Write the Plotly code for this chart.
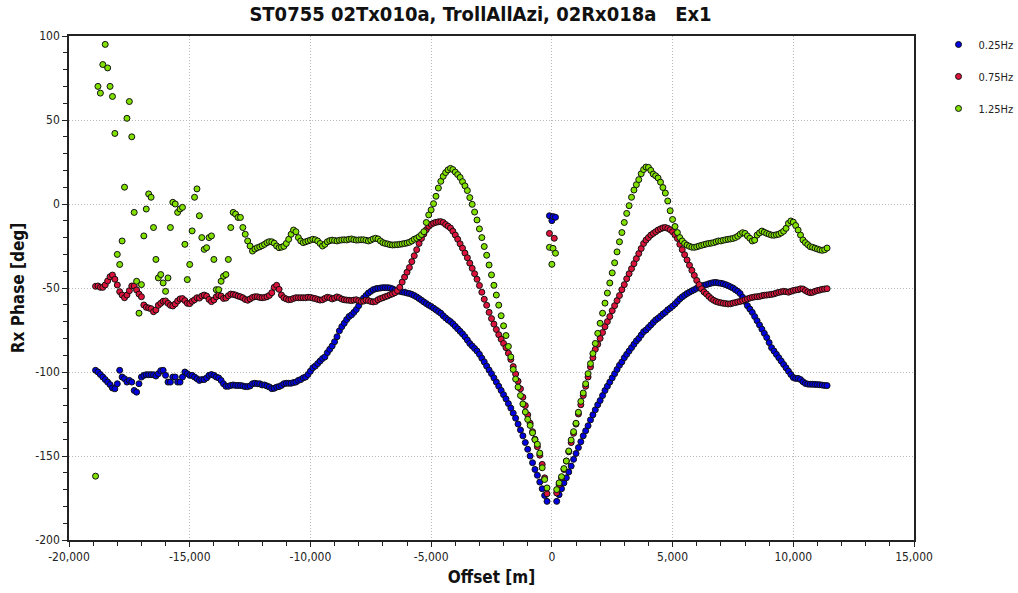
import plotly.graph_objects as go

TITLE = "ST0755 02Tx010a, TrollAllAzi, 02Rx018a\u00a0\u00a0\u00a0Ex1"
SERIES_NAMES = ["0.25Hz", "0.75Hz", "1.25Hz"]
SERIES_COLORS = ["#0000e0", "#dc143c", "#80e000"]

# receiver offsets [m] (regular 100 m sampling, near-offset gap)
OFFSETS_LEFT = list(range(-18900, -100, 100))   # -18900 .. -200
OFFSETS_RIGHT = list(range(200, 11500, 100))    # 200 .. 11400

# ---------------- 0.25 Hz ----------------
PH025_LEFT = [
    -99, -100, -101.5, -103, -104.5, -106, -107.5, -109.5, -110, -107,
    -99, -103, -104, -106, -105, -106, -111, -112, -107, -103,
    -102, -101.6, -101.6, -101.6, -101.6, -102.4, -101, -99.2, -99, -102,
    -106, -106, -103, -103, -106, -106, -103, -100, -101, -102,
    -102, -103, -104, -105, -104.5, -104.5, -103.5, -102, -101.5, -102,
    -103, -103.5, -105, -107, -108.5, -108.5, -108, -107.7, -108, -108,
    -108, -108.3, -108.7, -108.7, -108.3, -107, -106.7, -107, -107, -107.7,
    -107.7, -108.3, -108.9, -109.9, -109.7, -109, -108.7, -108, -107, -106.7,
    -106.7, -106.7, -106.3, -106, -105, -104.5, -103.5, -103,
    -101.5, -99.5, -97.5, -96.5, -95, -93.5, -92, -91, -88.5, -86.5,
    -84.5, -82, -79, -75.5, -73, -71, -68.8, -67, -66, -64.5,
    -62.8, -60.5, -57.8, -56, -54.5, -53, -52, -51, -50.5, -50.2,
    -50, -49.8, -49.8, -49.8, -50, -50.5, -51.2, -51.8, -52, -52.3,
    -52.6, -53, -53.3, -53.8, -54.5, -55.3, -56.3, -57.3, -58.3, -59.3,
    -60.2, -61, -62, -63, -64, -65, -66.5, -67.8, -69, -70,
    -71.3, -72.8, -74.3, -75.8, -77.3, -79, -81, -83, -84.5, -86,
    -87.5, -89.5, -91.8, -94, -96.5, -98.8, -101, -103.5, -106, -108.5,
    -111, -113.5, -116, -118.8, -121.5, -124.5, -127.5, -131, -134.5, -138,
    -142, -146, -150, -154, -158, -161.5, -165.5, -169.5, -173.5, -177,
]
PH025_NEAR_X = [-100, 0, 50, 150]
PH025_NEAR_Y = [-7, -9.9, -7.5, -7.9]
PH025_RIGHT = [
    -177, -173, -169.5, -166, -163, -159.5, -156, -152, -148.5, -145,
    -141.5, -138, -135, -132, -128.5, -125.5, -122.5, -119.5, -117, -114,
    -111, -108.5, -106, -103.5, -101, -98.5, -96, -94, -91.5, -89.5,
    -87.5, -85.5, -83.5, -81.5, -80, -78, -76, -75, -73.5, -72,
    -70.5, -69, -68, -66.8, -65.5, -64.5, -63, -62, -60.8, -59.5,
    -58, -56.5, -55.3, -54.3, -53.3, -52.5, -51.7, -51, -50.2, -49.5,
    -49, -48.4, -48, -47.5, -47.1, -46.8, -46.7, -47, -47.2, -47.5,
    -48, -48.6, -49.3, -50, -51, -52, -53.3, -55.5, -58, -60.5,
    -62.5, -64.5, -67, -69.5, -72, -74.5, -77, -79.5, -82.5, -85.5,
    -87.5, -89.5, -91.5, -93.5, -95.5, -97.5, -99.5, -101.5, -103.3, -103.8,
    -103.8, -104.5, -105.8, -106.8, -107.2, -107.3, -107.3, -107.4, -107.5, -107.6,
    -107.8, -108, -108.1,
]

# ---------------- 0.75 Hz ----------------
PH075_LEFT = [
    -49, -48.8, -49.6, -49.6, -48.2, -45.8, -43.3, -42.3, -44.8, -48.2,
    -52.2, -54.2, -55.8, -54.2, -51.6, -48.8, -48.8, -51.2, -53.6, -55.2,
    -60.1, -61.5, -61.9, -62.3, -64.1, -63.1, -60.3, -59.1, -57.9, -57.7,
    -59.1, -60.3, -60.7, -59.5, -57.7, -56.5, -56.3, -57.5, -59.1, -59.3,
    -57.9, -57, -55.8, -56, -54.8, -54.2, -54.8, -56.8, -58.1, -57.1,
    -55.2, -54.2, -54.8, -56.2, -56, -54.6, -53.6, -53.8, -54.2, -54.8,
    -55.2, -55.8, -56.8, -57.3, -56.5, -55.6, -55.2, -55.2, -55.6, -55.8,
    -55.6, -55.2, -54.4, -52.8, -49.6, -48.4, -50.8, -54.2, -55.8, -56.5,
    -57, -56.8, -56.2, -55.8, -55.8, -55.8, -55.8, -55.8,
    -55.5, -55.6, -56, -56.3, -56.8, -57.2, -57, -56.2, -55.5, -55.8,
    -56.5, -56, -55.3, -55.8, -56.6, -57, -57.2, -57.3, -57.5, -57.2,
    -57, -57.5, -58, -57.8, -57.2, -57.5, -58, -58.3, -58, -57,
    -56.3, -55.8, -55.2, -54.7, -54, -53.5, -52.8, -51.5, -49.6, -46.5,
    -43.5, -40.6, -37.8, -34.3, -30.8, -27.2, -23.5, -20.5, -17.8, -15.3,
    -13.3, -12.1, -11.4, -10.9, -10.6, -10.5, -11, -12.2, -13.2, -14.3,
    -16.2, -18.5, -21, -23.7, -26.3, -29.2, -32, -35.2, -38.3, -41.5,
    -44.8, -48.5, -52.5, -56.7, -60.3, -64.5, -68.2, -71.5, -74.7, -77.8,
    -80.5, -83, -85.5, -88.8, -92.5, -96.8, -101.2, -105.5, -110, -115,
    -120, -125.5, -130.5, -135.5, -140, -144.5, -149.5, -155, -163, -172.5,
]
PH075_NEAR_X = [-100, 100]
PH075_NEAR_Y = [-17.5, -20.4]
PH075_RIGHT = [
    -172, -167, -163, -158, -153, -147.5, -142, -136.5, -131, -125,
    -119.5, -114, -108.5, -103, -97, -91.5, -86.5, -83.5, -80, -76.5,
    -73, -70, -67, -63.5, -60.5, -57.5, -54.5, -51, -48, -44.5,
    -41.5, -38.5, -35.5, -32.5, -29.5, -26.5, -23.5, -21.5, -20, -18.5,
    -17.5, -16.5, -15.5, -14.8, -14.2, -14, -14.5, -15.3, -16.5, -18.3,
    -20.5, -24, -27.2, -30.2, -33.3, -36.5, -39.5, -42.5, -45.5, -48,
    -50.5, -52.3, -53.5, -55, -56.3, -57.3, -58, -58.5, -58.8, -59.1,
    -59.3, -59.5, -59.4, -59, -58.7, -58.3, -58, -57.5, -57, -56.5,
    -56, -55.6, -55.3, -55.2, -55, -54.6, -54.3, -54.2, -54, -53.8,
    -53.5, -53, -52.6, -52.3, -52, -52.2, -52.5, -52, -51.5, -51.2,
    -51, -50.5, -50.6, -51.5, -52.3, -52.8, -52.6, -52, -51.5, -51.2,
    -50.8, -50.6, -50.4,
]

# ---------------- 1.25 Hz ----------------
PH125_LEFT = [
    -162, 70, 66, 83, 95, 81, 70, 64, 42, -30,
    -36, -22, 10, 51, 61, 40, -5, -46, -65, -48,
    -19, -3, 6, 4, -14, -33, -44, -42, -47, -52,
    -44, -14, 1, 0, -5, -3, -2, -24, -45, -36,
    -16, 4, 9, -7, -20, -27, -26, -20, -19, -33,
    -51, -51, -46, -43, -42, -33, -14, -5, -6, -8,
    -8, -14, -18, -22, -25, -28,
    -26.8, -26, -25.5, -24.8, -24, -23, -22.4, -22.5, -23.3, -25,
    -26, -25.7, -25.2, -23.5, -21, -18, -15.5, -16.5, -20, -22,
    -23, -22.5, -22, -21.5, -21, -21.3, -22, -23.5, -25, -24,
    -22.5, -21.8, -21.5, -21.7, -22, -21.6, -21.4, -21.3, -21.4, -21,
    -20.8, -21.2, -21.5, -21.4, -21.3, -21.3, -21.6, -22, -21.5, -20.8,
    -20.4, -20.8, -22, -23, -23.5, -23.8, -24.2, -24.4, -24.3, -24.2,
    -24, -23.8, -23.5, -23.2, -22.8, -22, -21, -20.4, -19.5, -18.2,
    -16.5, -11, -6.5, -3.5, 0.2, 4.6, 9.5, 13.5, 16.5, 18.7,
    20.3, 21.2, 20.5, 19, 17.5, 15.8, 13.3, 10.8, 8, 3.8,
    -0.2, -4.8, -9.5, -14.8, -20, -25.3, -30.5, -36.3, -42.2, -48.4,
    -54.2, -60.2, -66.5, -72.5, -78.3, -84.8, -91, -98.5, -104.2, -109,
    -114, -119, -123.8, -128.2, -131.8, -136.2, -140.3, -143, -148.3, -157,
    -164, -169,
]
PH125_NEAR_X = [-100, 0, 50, 150]
PH125_NEAR_Y = [-25.8, -35.9, -26.4, -29.3]
PH125_RIGHT = [
    -170, -166, -162.3, -157.5, -153, -147, -140.5, -135.5, -130.5, -124,
    -117.5, -112.5, -107, -101, -95, -89, -83, -77, -71, -65,
    -59, -53, -47, -41, -35, -28.5, -22.5, -17, -11, -5.6,
    -1, 4, 8.3, 11.5, 14.5, 18, 20.5, 22, 21.8, 20,
    17.8, 16.8, 15.5, 13, 9.8, 6.5, 1.8, -4, -9.2, -13.4,
    -17, -20, -22, -23.5, -24.5, -25.2, -25.7, -25.8, -25.5, -25,
    -24.6, -24.2, -23.8, -23.5, -23.3, -23, -22.5, -22, -22, -21.6,
    -21.3, -21, -20.8, -20.5, -20, -19.2, -18, -17.1, -17.5, -19,
    -20.4, -22, -21.5, -18.5, -17.2, -16.1, -16.8, -17.5, -18, -18.5,
    -18.6, -18.3, -18, -17.2, -16.2, -14.5, -11.5, -10.1, -10.8, -12.8,
    -15.5, -18.5, -21.4, -23, -24.2, -25.4, -25.8, -26.3, -26.8, -27.3,
    -27.6, -27.2, -26.2,
]

X_TICKVALS = [-20000, -15000, -10000, -5000, 0, 5000, 10000, 15000]
X_TICKTEXT = ["-20,000", "-15,000", "-10,000", "-5,000", "0", "5,000", "10,000", "15,000"]
Y_TICKVALS = [100, 50, 0, -50, -100, -150, -200]
Y_TICKTEXT = ["100", "50", "0", "-50", "-100", "-150", "-200"]

series = [
    (PH025_LEFT, PH025_NEAR_X, PH025_NEAR_Y, PH025_RIGHT),
    (PH075_LEFT, PH075_NEAR_X, PH075_NEAR_Y, PH075_RIGHT),
    (PH125_LEFT, PH125_NEAR_X, PH125_NEAR_Y, PH125_RIGHT),
]

FONT = "DejaVu Sans Condensed, DejaVu Sans, sans-serif"

fig = go.Figure()
for i, (left, nx, ny, right) in enumerate(series):
    assert len(left) == len(OFFSETS_LEFT), (i, len(left))
    assert len(right) == len(OFFSETS_RIGHT), (i, len(right))
    fig.add_trace(go.Scatter(
        x=OFFSETS_LEFT + nx + OFFSETS_RIGHT,
        y=left + ny + right,
        mode="markers",
        name=SERIES_NAMES[i],
        legendgroup=SERIES_NAMES[i],
        marker=dict(size=6, color=SERIES_COLORS[i],
                    line=dict(color="#111111", width=1)),
    ))

axis_common = dict(
    showgrid=True, gridcolor="#b8b8b8", griddash="1px,2px", gridwidth=1,
    zeroline=False, showline=True, linecolor="#222", linewidth=1.5, mirror=True,
    ticks="outside", ticklen=5, tickwidth=1, tickcolor="#222",
    tickfont=dict(family=FONT, size=12, color="#222"),
)

fig.update_layout(
    width=1018, height=593,
    margin=dict(l=69, r=104, t=36, b=53, autoexpand=False),
    paper_bgcolor="white", plot_bgcolor="white",
    title=dict(text=TITLE, x=0.472, xanchor="center", y=0.976, yanchor="middle",
               font=dict(family=FONT, size=20, color="#111", weight="bold")),
    xaxis=dict(range=[-20000, 15000], tickvals=X_TICKVALS, ticktext=X_TICKTEXT,
               minor=dict(dtick=1000, ticks="outside", ticklen=4, tickcolor="#222", showgrid=False),
               title=dict(text="Offset [m]", standoff=8,
                          font=dict(family=FONT, size=17, color="#111", weight="bold")),
               **axis_common),
    yaxis=dict(range=[-200, 100], tickvals=Y_TICKVALS, ticktext=Y_TICKTEXT,
               minor=dict(dtick=10, ticks="outside", ticklen=4, tickcolor="#222", showgrid=False),
               title=dict(text="Rx Phase [deg]", standoff=6,
                          font=dict(family=FONT, size=17, color="#111", weight="bold")),
               **axis_common),
    legend=dict(x=1.029, xanchor="left", y=1.012, yanchor="top",
                font=dict(family=FONT, size=11, color="#222"),
                tracegroupgap=13, bgcolor="rgba(0,0,0,0)"),
    showlegend=True,
)

fig.write_html("out.html")
